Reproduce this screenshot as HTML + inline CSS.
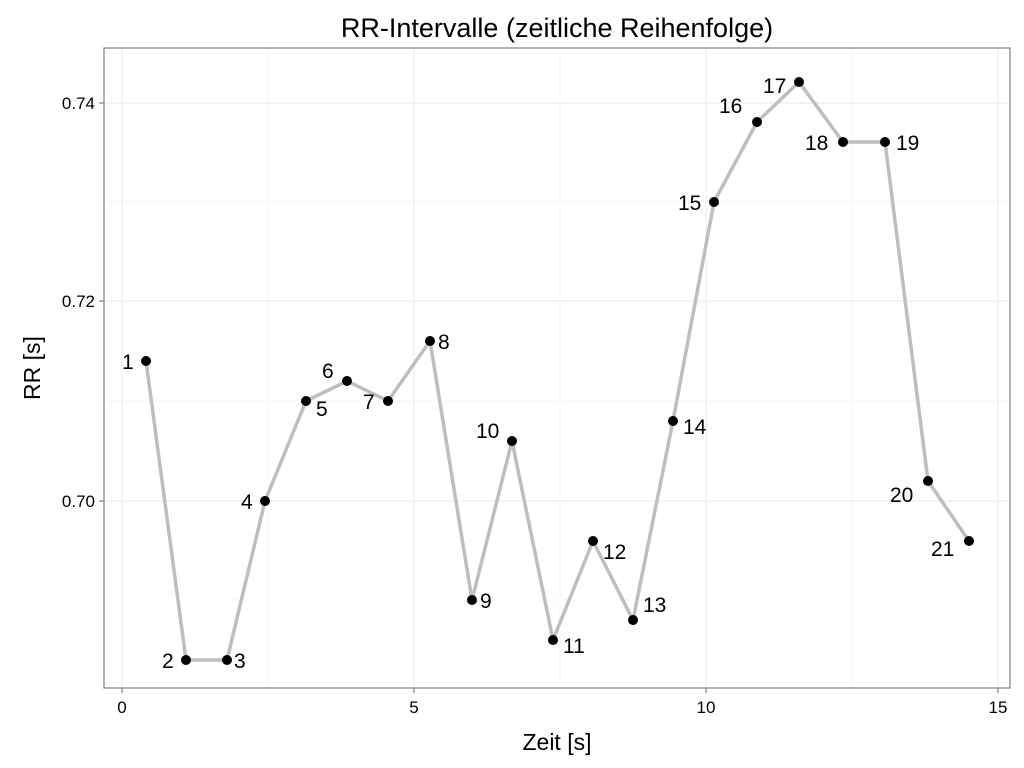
<!DOCTYPE html>
<html><head><meta charset="utf-8"><style>body{margin:0;background:#fff}svg{display:block}text{font-family:"Liberation Sans",sans-serif}</style></head><body>
<svg width="1024" height="768" xmlns="http://www.w3.org/2000/svg">
<rect width="1024" height="768" fill="#fff"/>
<g stroke="#f4f4f4" stroke-width="1">
<line x1="268" y1="48" x2="268" y2="688"/><line x1="560" y1="48" x2="560" y2="688"/><line x1="852" y1="48" x2="852" y2="688"/>
<line x1="104" y1="202" x2="1010" y2="202"/><line x1="104" y1="401" x2="1010" y2="401"/><line x1="104" y1="600" x2="1010" y2="600"/>
</g>
<g stroke="#ececec" stroke-width="1.2">
<line x1="122" y1="48" x2="122" y2="688"/><line x1="414" y1="48" x2="414" y2="688"/><line x1="706" y1="48" x2="706" y2="688"/><line x1="998" y1="48" x2="998" y2="688"/>
<line x1="104" y1="103" x2="1010" y2="103"/><line x1="104" y1="301" x2="1010" y2="301"/><line x1="104" y1="501" x2="1010" y2="501"/>
</g>
<polyline fill="none" stroke="#bebebe" stroke-width="3.5" stroke-linejoin="round" points="146,361 186,660 227,660 265,501 306,401 347,381 388,401 430,341 472,600 512,441 553,640 593,541 633,620 673,421 714,202 757,122 799,82 843,142 885,142 928,481 969,541"/>
<g fill="#000">
<circle cx="146" cy="361" r="5"/><circle cx="186" cy="660" r="5"/><circle cx="227" cy="660" r="5"/><circle cx="265" cy="501" r="5"/><circle cx="306" cy="401" r="5"/><circle cx="347" cy="381" r="5"/><circle cx="388" cy="401" r="5"/><circle cx="430" cy="341" r="5"/><circle cx="472" cy="600" r="5"/><circle cx="512" cy="441" r="5"/><circle cx="553" cy="640" r="5"/><circle cx="593" cy="541" r="5"/><circle cx="633" cy="620" r="5"/><circle cx="673" cy="421" r="5"/><circle cx="714" cy="202" r="5"/><circle cx="757" cy="122" r="5"/><circle cx="799" cy="82" r="5"/><circle cx="843" cy="142" r="5"/><circle cx="885" cy="142" r="5"/><circle cx="928" cy="481" r="5"/><circle cx="969" cy="541" r="5"/>
</g>
<g font-size="21" fill="#000">
<text x="122" y="369">1</text><text x="162" y="668">2</text><text x="234" y="668">3</text><text x="241" y="509">4</text><text x="316" y="416">5</text><text x="322" y="378">6</text><text x="363" y="409">7</text><text x="438" y="349">8</text><text x="480" y="608">9</text><text x="476" y="438">10</text><text x="563" y="653">11</text><text x="603" y="559">12</text><text x="643" y="612">13</text><text x="683" y="434">14</text><text x="678" y="210">15</text><text x="719" y="113">16</text><text x="763" y="93">17</text><text x="805" y="150">18</text><text x="896" y="150">19</text><text x="890" y="502">20</text><text x="931" y="556">21</text>
</g>
<rect x="104" y="48" width="906" height="640" fill="none" stroke="#7f7f7f" stroke-width="1.2"/>
<g stroke="#7f7f7f" stroke-width="1.2">
<line x1="122" y1="688" x2="122" y2="693"/><line x1="414" y1="688" x2="414" y2="693"/><line x1="706" y1="688" x2="706" y2="693"/><line x1="998" y1="688" x2="998" y2="693"/>
<line x1="99" y1="103" x2="104" y2="103"/><line x1="99" y1="301" x2="104" y2="301"/><line x1="99" y1="501" x2="104" y2="501"/>
</g>
<g font-size="17" fill="#000">
<text x="122" y="713" text-anchor="middle">0</text><text x="414" y="713" text-anchor="middle">5</text><text x="706" y="713" text-anchor="middle">10</text><text x="998" y="713" text-anchor="middle">15</text>
<text x="95" y="109" text-anchor="end">0.74</text><text x="95" y="307" text-anchor="end">0.72</text><text x="95" y="507" text-anchor="end">0.70</text>
</g>
<text x="557" y="750" font-size="23" text-anchor="middle">Zeit [s]</text>
<text transform="translate(40,368) rotate(-90)" font-size="23" text-anchor="middle">RR [s]</text>
<text x="557" y="37" font-size="27" text-anchor="middle">RR-Intervalle (zeitliche Reihenfolge)</text>
</svg>
</body></html>
